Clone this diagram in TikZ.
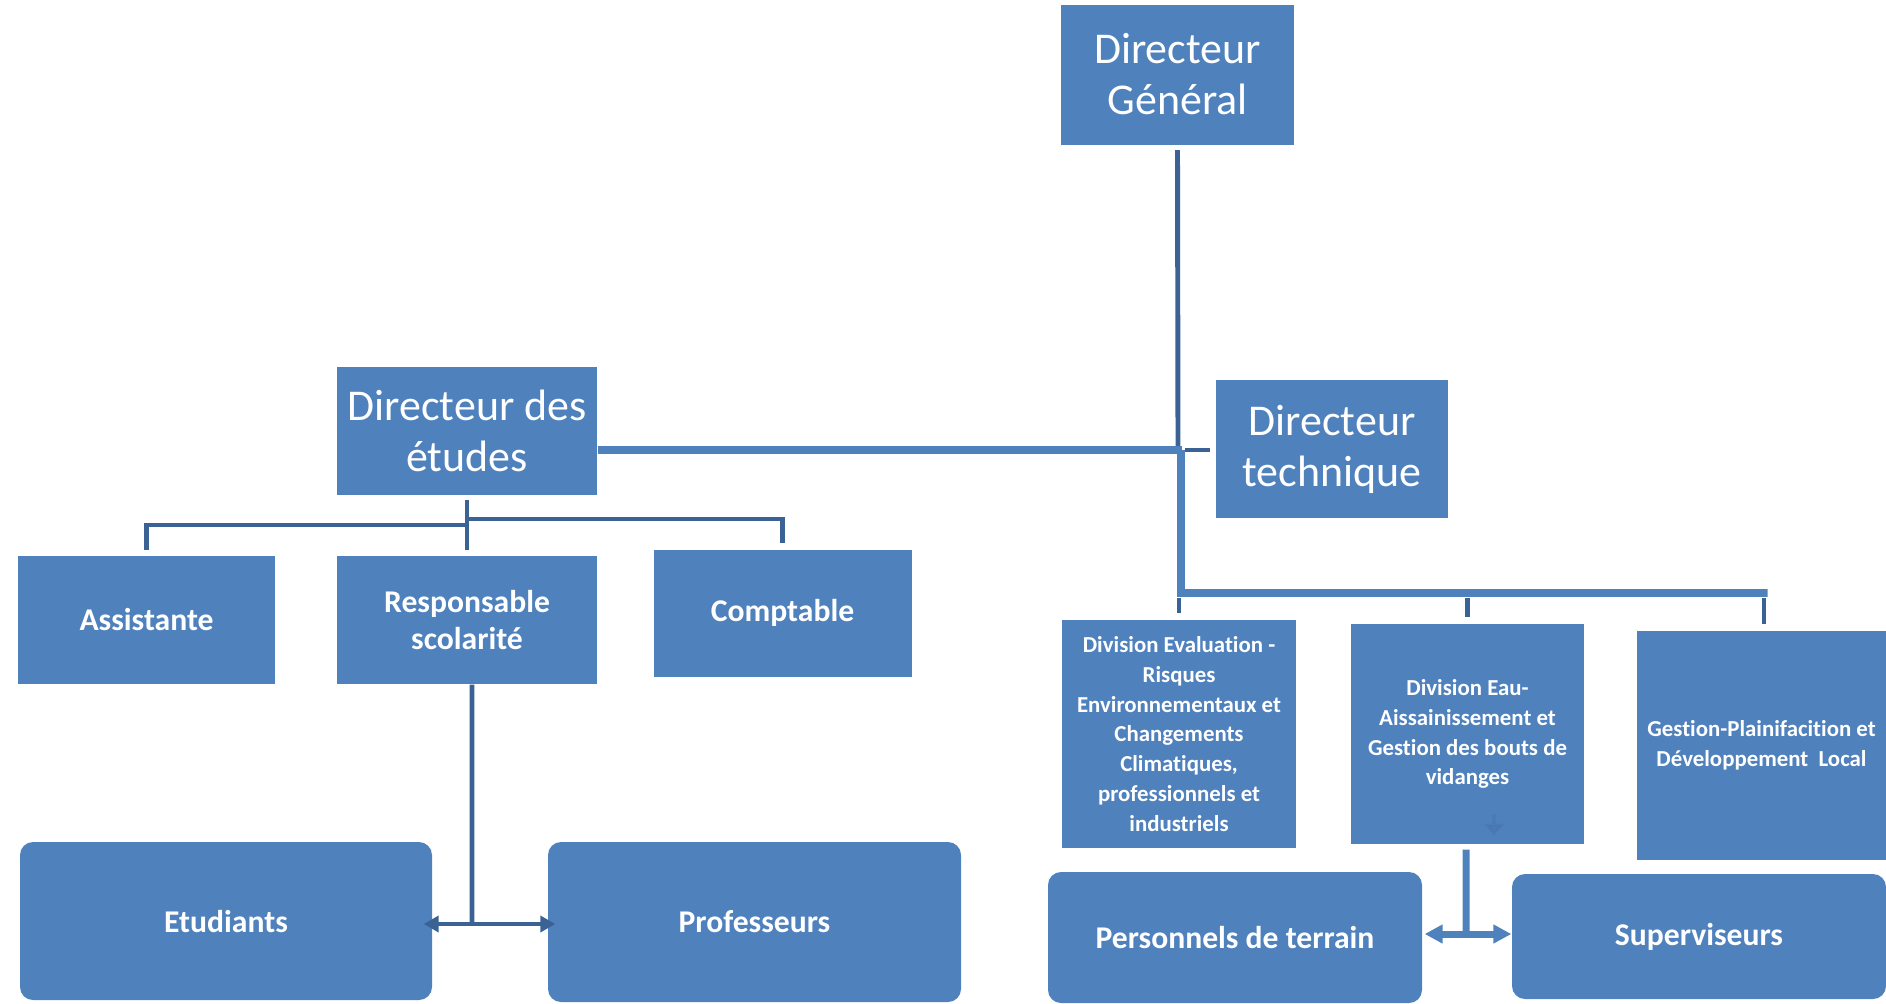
\documentclass[tikz,border=0pt]{standalone}
\usepackage{fontspec}
\setmainfont{Carlito}[Ligatures=NoCommon]
\usepackage{tikz}
\usetikzlibrary{arrows.meta, positioning, calc}
\definecolor{boxblue}{HTML}{4F81BD}
\definecolor{linkdark}{HTML}{3A6294}
\tikzstyle{chief} = [rectangle, fill=boxblue, text=white, inner sep=0pt, align=center, font=\fontsize{12.5}{14.5}\selectfont]
\tikzstyle{staff} = [rectangle, fill=boxblue, text=white, inner sep=0pt, align=center, font=\fontsize{9}{10.8}\selectfont\bfseries]
\tikzstyle{division} = [rectangle, fill=boxblue, text=white, inner sep=0pt, align=center, font=\fontsize{6.5}{8.5}\selectfont\bfseries]
\tikzstyle{team} = [staff, rounded corners=1.3mm]
\tikzstyle{link} = [draw=linkdark, line width=1.4pt]
\tikzstyle{trunk} = [draw=boxblue, line width=2.2pt]
\tikzstyle{arrow} = [link, {Triangle[width=1.6mm,length=1.5mm]}-{Triangle[width=1.6mm,length=1.5mm]}]
\tikzstyle{arrowlight} = [trunk, line width=2pt, {Triangle[width=1.8mm,length=1.8mm]}-{Triangle[width=1.8mm,length=1.8mm]}]
\begin{document}
\begin{tikzpicture}[x=0.1mm, y=-0.1mm]
\useasboundingbox (0,0) rectangle (1886,1003);
%----------------------------------------------------------------------------
% Directors
\node (dirGeneral) [chief, minimum width=23.3mm, minimum height=14mm] at (1177.5,74.5) {Directeur\\Général};
\node (dirTechnique) [chief, minimum width=23.2mm, minimum height=13.8mm] at (1332,449) {Directeur\\technique};
\node (dirEtudes) [chief, minimum width=26mm, minimum height=12.8mm] at (467,430.5) {Directeur des\\études};

% staff under the studies director
\node (assistante) [staff, minimum width=25.7mm, minimum height=12.8mm] at (146.5,620) {Assistante};
\node (respScolarite) [staff, minimum width=26mm, minimum height=12.8mm] at (467,620) {Responsable\\scolarité};
\node (comptable) [staff, minimum width=25.8mm, minimum height=12.7mm] at (782.5,613) {Comptable};

% divisions under the technical director
\node (divEvaluation) [division, minimum width=23.4mm, minimum height=22.8mm] at (1179,734) {Division Evaluation -\\Risques\\Environnementaux et\\Changements\\Climatiques,\\professionnels et\\industriels};
\node (divEau) [division, minimum width=23.3mm, minimum height=22mm] at (1467.5,734) {Division Eau-\\Aissainissement et\\Gestion des bouts de\\vidanges};
\node (gestionPlanif) [division, minimum width=24.9mm, minimum height=22.9mm] at (1761.5,745.5) {Gestion-Plainifacition et\\Développement\ \ Local};

% bottom groups
\node (etudiants) [team, minimum width=41.2mm, minimum height=15.8mm] at (226,921) {Etudiants};
\node (professeurs) [team, minimum width=41.3mm, minimum height=16mm] at (754.5,922) {Professeurs};
\node (personnels) [team, minimum width=37.4mm, minimum height=13.1mm] at (1235,937.5) {Personnels de terrain};
\node (superviseurs) [team, minimum width=37.4mm, minimum height=12.5mm] at (1699,936.5) {Superviseurs};

%----------------------------------------------------------------------------
% Junction points
\coordinate (hubTop) at (1178,450);
\coordinate (busTech) at (1181,593);
\coordinate (splitL) at (466,525);
\coordinate (splitR) at (466,519);
\coordinate (forkEP) at (472,924);
\coordinate (forkPS) at (1466,934);

%----------------------------------------------------------------------------
% Draw lines
\draw [link] ([yshift=-0.5mm]dirGeneral.south) -- (hubTop);
\draw [trunk] (dirEtudes.east |- hubTop) -- ([xshift=0.4mm]hubTop);
\draw [link] ([xshift=0.7mm]hubTop) -- ([xshift=-0.5mm]dirTechnique.west |- hubTop);
\draw [trunk] ([xshift=0.3mm]hubTop) -- (busTech) -- ([xshift=0.6mm]busTech -| gestionPlanif.north);

\draw [link] ([yshift=-0.5mm]busTech -| divEvaluation.north) -- ([yshift=0.6mm]divEvaluation.north);
\draw [link] ([yshift=-0.5mm]busTech -| divEau.north) -- ([yshift=0.6mm]divEau.north);
\draw [link] ([yshift=-0.5mm,xshift=0.25mm]busTech -| gestionPlanif.north) -- ([yshift=0.6mm,xshift=0.25mm]gestionPlanif.north);

\draw [link] ([yshift=-0.5mm]dirEtudes.south) -- ([yshift=0.5mm]respScolarite.north);
\draw [link] (splitL) -| ([yshift=0.5mm]assistante.north);
\draw [link] (splitR) -| ([yshift=0.6mm]comptable.north);

%----------------------------------------------------------------------------
% Double arrows to the groups
\draw [link] ([xshift=0.5mm]respScolarite.south) -- (forkEP);
\draw [arrow] ([xshift=-0.9mm]etudiants.east |- forkEP) -- ([xshift=0.8mm]professeurs.west |- forkEP);

\draw [trunk, line width=2pt] ([yshift=-0.5mm,xshift=-0.15mm]divEau.south) -- (forkPS);
\draw [arrowlight] ([xshift=0.2mm]personnels.east |- forkPS) -- (superviseurs.west |- forkPS);

% faint mark inside the water division
\draw [draw=boxblue!80!black, opacity=0.2, line width=1.2pt, -{Triangle[width=2mm,length=1.2mm]}] ([xshift=2.65mm,yshift=3.1mm]divEau.south) -- ([xshift=2.65mm,yshift=0.9mm]divEau.south);

\end{tikzpicture}
\end{document}
